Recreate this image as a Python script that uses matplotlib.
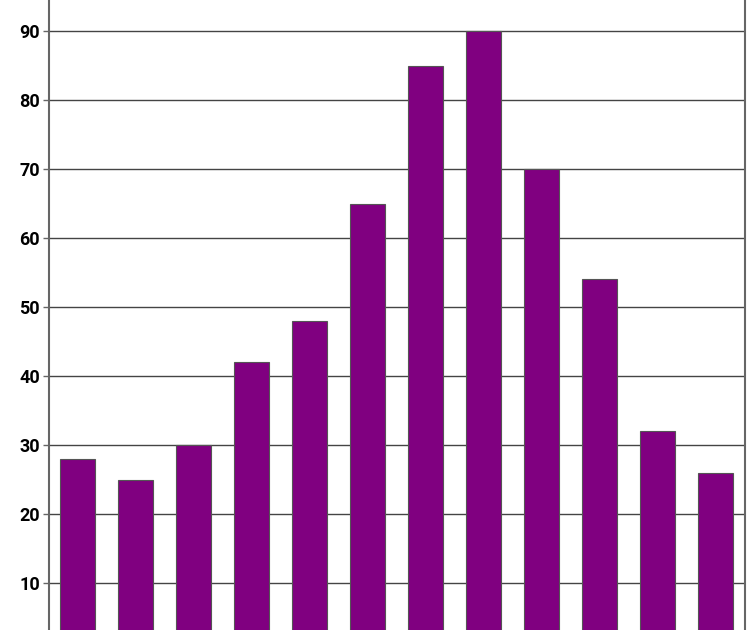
import matplotlib
matplotlib.use("Agg")
import matplotlib.pyplot as plt

# bar heights, left to right
cats = list(range(12))
vals = [28, 25, 30, 42, 48, 65, 85, 90, 70, 54, 32, 26]
yticks = [10, 20, 30, 40, 50, 60, 70, 80, 90]

plt.rcParams["font.family"] = ["Roboto", "DejaVu Sans"]

fig = plt.figure(figsize=(7.5, 6.3), dpi=100)
# axes run off the canvas at the top and bottom, like the cropped original
ax = fig.add_axes([48.5/750, -22/630, 696/750, 690/630])
ax.bar(cats, vals, width=0.6, color="#800080", edgecolor="#555555", linewidth=0.8, zorder=3)

ax.set_xlim(-0.5, 11.5)
ax.set_ylim(0, 100)
ax.set_yticks(yticks)
ax.set_yticklabels([str(t) for t in yticks], fontsize=13, fontweight="bold")
ax.set_xticks([])
ax.yaxis.grid(True, color="#444444", linewidth=1.0, zorder=0)
ax.tick_params(axis="y", length=4, width=1, color="#666666", pad=2)
for side in ["top", "bottom"]:
    ax.spines[side].set_visible(False)
for side in ["left", "right"]:
    ax.spines[side].set_color("#666666")
    ax.spines[side].set_linewidth(1.5)

fig.savefig("out.png", dpi=100)
